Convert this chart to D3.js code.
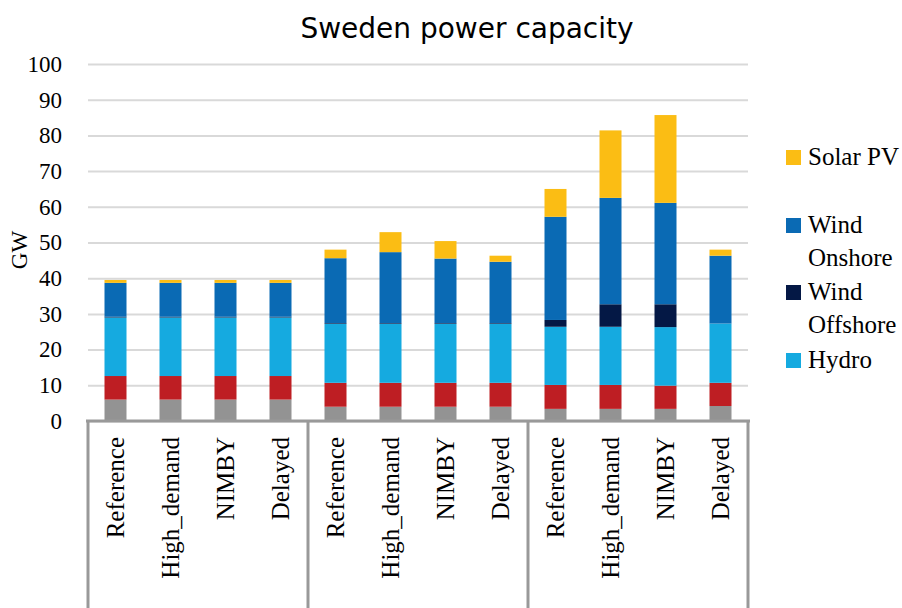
<!DOCTYPE html>
<html>
<head>
<meta charset="utf-8">
<script src="https://cdn.jsdelivr.net/npm/d3@7"></script>
<style>
  body { margin: 0; background: #fff; }
</style>
</head>
<body>
<div id="chart"></div>
<script>
// scenario labels, 3 groups of 4
const scenarios = ["Reference", "High_demand", "NIMBY", "Delayed",
                   "Reference", "High_demand", "NIMBY", "Delayed",
                   "Reference", "High_demand", "NIMBY", "Delayed"];
const groupSize = 4;

// series, bottom to top (GW)
const seriesKeys = ["Nuclear", "Thermal", "Hydro", "Wind Offshore", "Wind Onshore", "Solar PV"];
const nuclear   = [6.0, 6.0, 6.0, 6.0, 4.0, 4.0, 4.0, 4.0, 3.4, 3.4, 3.4, 4.2];
const thermal   = [6.6, 6.6, 6.6, 6.6, 6.7, 6.7, 6.7, 6.7, 6.7, 6.7, 6.5, 6.5];
const hydro     = [16.4, 16.4, 16.4, 16.4, 16.5, 16.5, 16.5, 16.5, 16.3, 16.3, 16.4, 16.6];
const offshore  = [0.2, 0.2, 0.2, 0.2, 0.2, 0.2, 0.2, 0.2, 1.9, 6.3, 6.4, 0.0];
const onshore   = [9.5, 9.5, 9.5, 9.5, 18.2, 19.9, 18.1, 17.2, 28.9, 29.8, 28.4, 19.0];
const solar     = [0.8, 0.8, 0.8, 0.8, 2.4, 5.6, 4.9, 1.7, 7.8, 18.9, 24.6, 1.7];

const colors = ["#939393", "#be1e23", "#15aae0", "#041845", "#0a6ab4", "#fbbd14"];
const legendKeys = ["Solar PV", "Wind Onshore", "Wind Offshore", "Hydro"];
const yTicks = [0, 10, 20, 30, 40, 50, 60, 70, 80, 90, 100];

const serifFont = "'Liberation Serif', 'DejaVu Serif', serif";
const width = 902, height = 608;
const margin = { top: 64, right: 154, bottom: 187, left: 88 };

const svg = d3.select("#chart").append("svg")
  .attr("width", width)
  .attr("height", height);

// build rows for the stack
const rows = scenarios.map((s, i) => ({
  idx: i,
  "Nuclear": nuclear[i], "Thermal": thermal[i], "Hydro": hydro[i],
  "Wind Offshore": offshore[i], "Wind Onshore": onshore[i], "Solar PV": solar[i]
}));
const stacked = d3.stack().keys(seriesKeys)(rows);

const x = d3.scaleBand()
  .domain(d3.range(scenarios.length))
  .range([margin.left, width - margin.right])
  .paddingInner(0.6)
  .paddingOuter(0.3);

const y = d3.scaleLinear()
  .domain([0, 100])
  .range([height - margin.bottom, margin.top]);

const color = d3.scaleOrdinal().domain(seriesKeys).range(colors);

// gridlines + y tick labels
const yAxis = d3.axisLeft(y)
  .tickValues(yTicks)
  .tickSize(-(width - margin.left - margin.right))
  .tickPadding(26);

svg.append("g")
  .attr("transform", "translate(" + margin.left + ",0)")
  .call(yAxis)
  .call(g => g.select(".domain").remove())
  .call(g => g.selectAll(".tick line").attr("stroke", "#d9d9d9").attr("stroke-width", 2))
  .call(g => g.selectAll(".tick text")
    .style("font-family", serifFont)
    .style("font-size", "23px")
    .attr("fill", "#000"));

// y axis title
svg.append("text")
  .attr("transform", "rotate(-90)")
  .attr("x", -250)
  .attr("y", 27)
  .attr("text-anchor", "middle")
  .style("font-family", serifFont)
  .style("font-size", "23px")
  .text("GW");

// bars
svg.append("g")
  .selectAll("g")
  .data(stacked)
  .join("g")
    .attr("fill", d => color(d.key))
  .selectAll("rect")
  .data(d => d)
  .join("rect")
    .attr("x", d => x(d.data.idx))
    .attr("y", d => y(d[1]))
    .attr("height", d => y(d[0]) - y(d[1]))
    .attr("width", x.bandwidth());

// category axis with group boxes
const axisY = y(0);
const step = x.step();
const groupEdges = d3.range(0, scenarios.length + 1, groupSize)
  .map(i => i === scenarios.length ? width - margin.right : margin.left + i * step);

svg.append("line")
  .attr("x1", margin.left - 2)
  .attr("x2", width - margin.right + 2)
  .attr("y1", axisY)
  .attr("y2", axisY)
  .attr("stroke", "#999")
  .attr("stroke-width", 3);

svg.selectAll(".groupline")
  .data(groupEdges)
  .join("line")
    .attr("class", "groupline")
    .attr("x1", d => d)
    .attr("x2", d => d)
    .attr("y1", axisY)
    .attr("y2", height)
    .attr("stroke", "#999")
    .attr("stroke-width", 3);

svg.selectAll(".catlabel")
  .data(scenarios)
  .join("text")
    .attr("class", "catlabel")
    .attr("transform", (d, i) => "translate(" + (x(i) + x.bandwidth() / 2 + 8) + "," + (axisY + 16) + ") rotate(-90)")
    .attr("text-anchor", "end")
    .style("font-family", serifFont)
    .style("font-size", "25px")
    .text(d => d);

// title
svg.append("text")
  .attr("x", 467)
  .attr("y", 38)
  .attr("text-anchor", "middle")
  .style("font-family", "'DejaVu Sans', Verdana, sans-serif")
  .style("font-size", "28px")
  .text("Sweden power capacity");

// legend
const legendY = [157, 225, 292, 360];
const legend = svg.append("g");
legendKeys.forEach((k, i) => {
  const gy = legendY[i];
  legend.append("rect")
    .attr("x", 786)
    .attr("y", gy - 7)
    .attr("width", 15)
    .attr("height", 15)
    .attr("fill", color(k));
  // two-word wind names wrap onto a second line
  const lines = k.startsWith("Wind") ? k.split(" ") : [k];
  const t = legend.append("text")
    .style("font-family", serifFont)
    .style("font-size", "25px");
  lines.forEach((w, j) => {
    t.append("tspan")
      .attr("x", 808)
      .attr("y", gy + 8 + j * 33)
      .text(w);
  });
});
</script>
</body>
</html>
